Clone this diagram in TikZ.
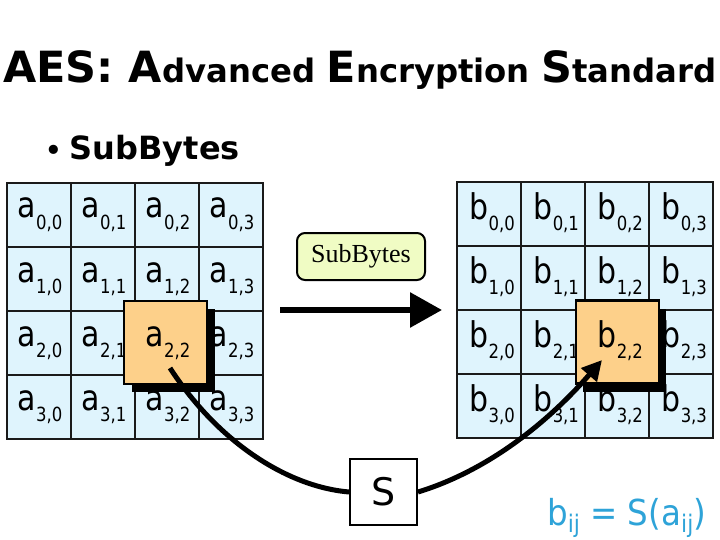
\documentclass[tikz,border=0pt]{standalone}
\usepackage{fontspec}
\setmainfont{DejaVu Sans}
\newfontfamily\serifb{Liberation Serif}
\usetikzlibrary{arrows.meta}
\definecolor{cellblue}{HTML}{DFF4FD}
\definecolor{hlorange}{HTML}{FDD08A}
\definecolor{boxgreen}{HTML}{F0FCC4}
\definecolor{formblue}{HTML}{2EA3D8}
\definecolor{gridline}{HTML}{1A1A1A}
\newcommand{\cellab}[3]{\scalebox{1}[1.18]{\fontsize{30}{30}\selectfont #1{\fontsize{16.5}{16.5}\selectfont\raisebox{-10pt}{#2,#3}}}}
\newcommand{\bigL}{\fontsize{43}{43}\selectfont}
\newcommand{\smallL}{\fontsize{32.3}{32.3}\selectfont}
\tikzset{
  cellbox/.style={draw=gridline, line width=1.3pt, fill=cellblue, minimum size=64pt, inner sep=0pt},
  celltext/.style={anchor=base west, inner sep=0pt},
  hlbox/.style={draw=black, line width=2.5pt, fill=hlorange, minimum size=83pt, inner sep=0pt},
  hlshadow/.style={fill=black, minimum size=83pt, inner sep=0pt},
  sbox/.style={draw=black, line width=2pt, fill=white, minimum width=67pt, minimum height=66pt, inner sep=0pt, font=\fontsize{38}{38}\selectfont},
  opbox/.style={draw=black, line width=2pt, fill=boxgreen, rounded corners=8pt, minimum width=128pt, minimum height=47pt, inner sep=0pt, font=\serifb\fontsize{26}{26}\selectfont},
  thick arrow/.style={line width=6pt, -{Triangle[length=32pt,width=34pt]}},
  curve line/.style={line width=5pt},
  curve arrow/.style={line width=5pt, -{Triangle[length=20pt,width=20pt]}},
}
\begin{document}
\begin{tikzpicture}[x=1pt,y=-1pt]
\useasboundingbox (0,0) rectangle (720,540);
% title
\node[anchor=base west, inner sep=0pt] (title) at (3,83)
  {\bfseries\bigL AES: A\smallL dvanced \bigL E\smallL ncryption \bigL S\smallL tandard};
\node[anchor=base west, inner sep=0pt] (bullet) at (45,160)
  {\bfseries\fontsize{32}{32}\selectfont {\fontsize{26}{26}\selectfont •}\hspace{8pt}SubBytes};
% left grid
\foreach \r in {0,...,3}{
  \foreach \c in {0,...,3}{
    \node[cellbox] (a\r\c) at ({39+64*\c},{215+64*\r}) {};
    \node[celltext] (la\r\c) at ({17.5+64*\c},{218+64*\r}) {\cellab{a}{\r}{\c}};
  }
}
% right grid
\foreach \r in {0,...,3}{
  \foreach \c in {0,...,3}{
    \node[cellbox] (b\r\c) at ({489+64*\c},{214+64*\r}) {};
    \node[celltext] (lb\r\c) at ({469.5+64*\c},{219+64*\r}) {\cellab{b}{\r}{\c}};
  }
}
% highlighted cells
\node[hlshadow] (sha) at (173,350) {};
\node[hlbox] (ha) at (165.5,342.5) {};
\node[celltext] (lha) at (145.5,346) {\cellab{a}{2}{2}};
\node[hlshadow] (shb) at (624.5,350) {};
\node[hlbox] (hb) at (617.5,342) {};
\node[celltext] (lhb) at (597.5,347) {\cellab{b}{2}{2}};
% operation box and arrow
\node[opbox] (op) at (361,256.5) {SubBytes};
\coordinate (arrs) at (280,310);
\coordinate (arre) at (442,310);
\draw[thick arrow] (arrs) -- (arre);
% S box and curves
\node[sbox] (S) at (383.5,492) {S};
\coordinate (cstart) at (170,368);
\coordinate (cend) at (602,360);
\draw[curve line] (cstart) .. controls (220,445) and (290,487) .. (S.west);
\draw[curve arrow] (S.east) .. controls (490,470) and (550,420) .. (cend);
% formula
\node[anchor=base west, inner sep=0pt, text=formblue] (form) at (547,525)
  {\scalebox{1}[1.1]{\fontsize{32.5}{32.5}\selectfont b\raisebox{-6.5pt}{\fontsize{22}{22}\selectfont ij} = S(a\raisebox{-6.5pt}{\fontsize{22}{22}\selectfont ij})}};
\end{tikzpicture}
\end{document}
